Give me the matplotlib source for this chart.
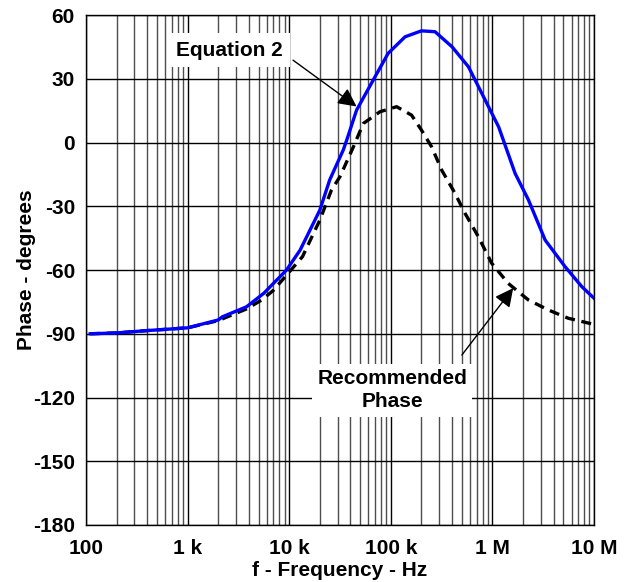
import matplotlib.pyplot as plt
from matplotlib.ticker import FixedLocator, LogLocator, NullFormatter

plt.rcParams['font.family'] = ['Liberation Sans', 'DejaVu Sans']
plt.rcParams['font.weight'] = 'bold'
plt.rcParams['axes.unicode_minus'] = False

# Equation 2 (blue)
eq2_freq = [110, 200, 400, 1000, 2000, 2200, 3800, 5600, 9400, 12800,
            20000, 25000, 34000, 36800, 46000, 67000, 94000, 138000,
            200000, 272000, 400000, 580000, 785000, 1150000, 1670000,
            2260000, 3300000, 5200000, 7600000, 10000000]
eq2_phase = [-90, -89.6, -88.5, -87.2, -83.5, -82, -77.3, -71, -60, -50.6,
             -31.8, -17.6, -3.5, 1.2, 15.3, 29.4, 42, 49.8,
             52.6, 52.2, 45.1, 35.7, 23.2, 7.4, -14.5,
             -27, -45.9, -58.5, -67.9, -73.3]

# Recommended phase (black dashed)
rec_freq = [110, 200, 400, 1000, 2000, 3800, 5400, 7000, 9400, 13500, 20000,
            26000, 31600, 42800, 53600, 78000, 114000, 160000,
            200000, 252000, 316000, 428000, 537000, 726000, 982000, 1430000,
            2260000, 3550000, 5580000, 10000000]
rec_phase = [-90, -89.6, -88.5, -87.2, -83.8, -78.3, -74, -69.5, -62.4, -53.7, -36.5,
             -22.4, -16, -2, 9, 14.5, 16.9, 12.9,
             5.9, -2, -12.9, -23.9, -33.3, -44.3, -56.8, -66.3,
             -74.1, -78.8, -82.7, -85.6]

x_ticks = [100, 1e3, 1e4, 1e5, 1e6, 1e7]
x_labels = ['100', '1 k', '10 k', '100 k', '1 M', '10 M']
y_ticks = [60, 30, 0, -30, -60, -90, -120, -150, -180]

fig = plt.figure(figsize=(6.3, 5.82), dpi=100)
ax = fig.add_axes([0.1365, 0.098, 0.8065, 0.876])

ax.set_xscale('log')
ax.set_xlim(100, 1e7)
ax.set_ylim(-180, 60)

ax.xaxis.set_major_locator(FixedLocator(x_ticks))
ax.set_xticklabels(x_labels)
ax.xaxis.set_minor_locator(LogLocator(base=10, subs=range(2, 10), numticks=20))
ax.xaxis.set_minor_formatter(NullFormatter())
ax.set_yticks(y_ticks)

ax.grid(which='major', color='black', lw=1)
ax.grid(which='minor', axis='x', color='#4d4d4d', lw=1)
ax.tick_params(which='both', length=0, labelsize=15, pad=8)
ax.tick_params(axis='x', pad=10)
for s in ax.spines.values():
    s.set_color('black')
    s.set_linewidth(1)

ax.plot(rec_freq, rec_phase, color='black', lw=2.4, ls=(0, (3, 2)), zorder=3)
ax.plot(eq2_freq, eq2_phase, color='#0000ff', lw=2.4, zorder=4)

box = dict(boxstyle='square,pad=0.35', fc='white', ec='none')
arrow = dict(arrowstyle='-|>', color='black', lw=1, mutation_scale=28,
             shrinkA=0, shrinkB=0)

ax.annotate('', xy=(46000, 17), xytext=(10900, 38.8),
            arrowprops=arrow, zorder=5)
ax.text(2600, 43.5, 'Equation 2', fontsize=15, fontweight='bold',
        ha='center', va='center', bbox=box, zorder=6)

ax.annotate('', xy=(1600000, -68.5), xytext=(500000, -100),
            arrowprops=arrow, zorder=5)
ax.text(103000, -116.5, 'Recommended\nPhase', fontsize=15, fontweight='bold',
        ha='center', va='center', linespacing=1.3,
        bbox=dict(boxstyle='square,pad=0.25', fc='white', ec='none'), zorder=6)

ax.set_xlabel('f - Frequency - Hz', fontsize=15, fontweight='bold', labelpad=2)
ax.set_ylabel('Phase - degrees', fontsize=15, fontweight='bold', labelpad=-2)

fig.savefig('out.png', dpi=100)
